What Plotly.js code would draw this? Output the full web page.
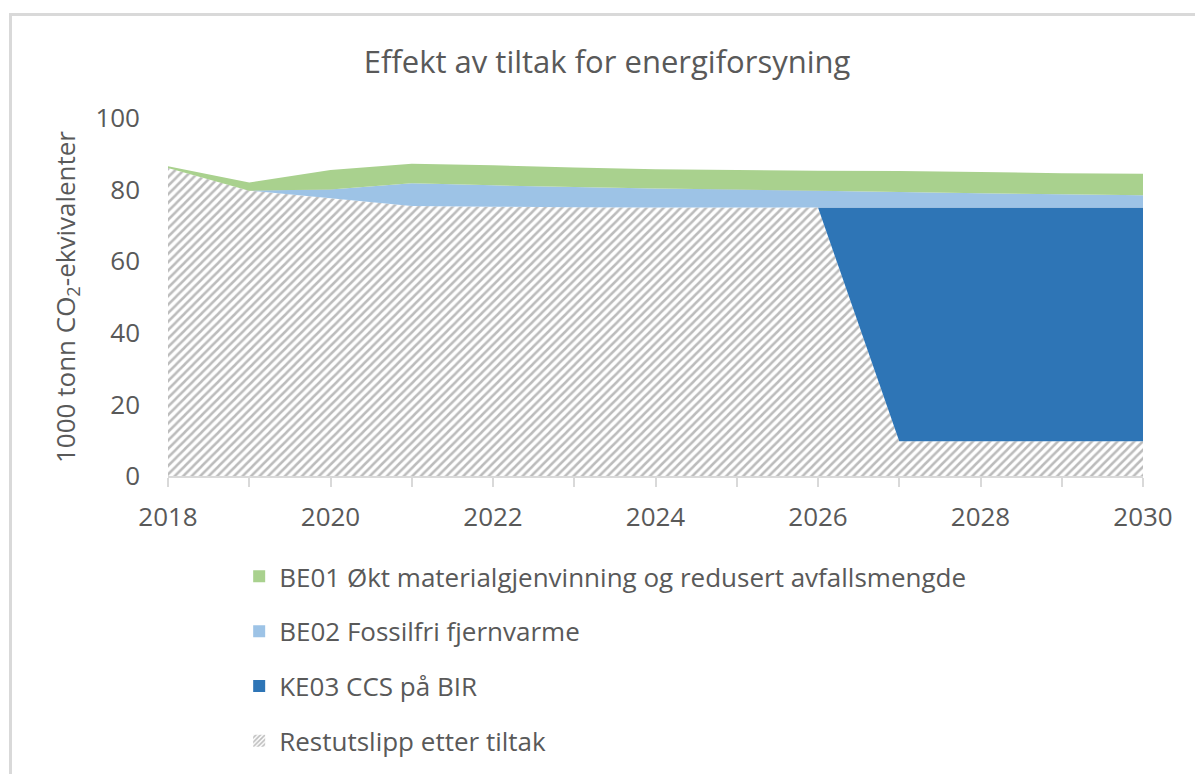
<!DOCTYPE html>
<html>
<head>
<meta charset="utf-8">
<script src="https://cdn.plot.ly/plotly-3.0.1.min.js"></script>
<style>
  html, body { margin: 0; padding: 0; background: #fff; overflow: hidden; }
  #frame { position: absolute; left: 9px; top: 13px; width: 1300px; height: 900px; border: 3px solid #d9d9d9; box-sizing: border-box; }
  #chart { position: absolute; left: 0; top: 0; width: 1195px; height: 774px; }
</style>
</head>
<body>
<div id="frame"></div>
<div id="chart"></div>
<script>
const years = [2018, 2019, 2020, 2021, 2022, 2023, 2024, 2025, 2026, 2027, 2028, 2029, 2030];
const restutslipp = [86, 79.7, 77.6, 75.4, 75.2, 75.1, 75, 75, 75, 9.7, 9.7, 9.7, 9.7];
const ke03 = [0, 0, 0, 0, 0, 0, 0, 0, 0, 65.3, 65.3, 65.3, 65.3];
const be02 = [0, 0, 2.4, 6.4, 6.0, 5.6, 5.3, 5.0, 4.7, 4.3, 4.0, 3.7, 3.4];
const be01 = [0.5, 2.3, 5.5, 5.4, 5.6, 5.5, 5.4, 5.5, 5.6, 5.9, 5.9, 5.9, 6.0];

const names = {
  be01: 'BE01 Økt materialgjenvinning og redusert avfallsmengde',
  be02: 'BE02 Fossilfri fjernvarme',
  ke03: 'KE03 CCS på BIR',
  rest: 'Restutslipp etter tiltak'
};
const colors = { be01: '#a9d18e', be02: '#9dc3e6', ke03: '#2e75b6' };
const hatch = { shape: '/', bgcolor: '#ffffff', fgcolor: '#bcbcbc', size: 6, solidity: 0.42 };
const textColor = '#595959';
const font = 'Open Sans, Noto Sans, sans-serif';

function area(y, key, extra) {
  return Object.assign({
    x: years, y: y, type: 'scatter', mode: 'none', stackgroup: 'one',
    name: names[key], showlegend: false, hoverinfo: 'x+y+name'
  }, extra);
}
function legendItem(key, marker, group) {
  return { x: [null], y: [null], type: 'bar', name: names[key], marker: marker, legendgroup: group, showlegend: true };
}

const data = [
  area(restutslipp, 'rest', { fillcolor: '#ffffff', fillpattern: hatch }),
  area(ke03, 'ke03', { fillcolor: colors.ke03 }),
  area(be02, 'be02', { fillcolor: colors.be02 }),
  area(be01, 'be01', { fillcolor: colors.be01 }),
  legendItem('be01', { color: colors.be01 }, 'g1'),
  legendItem('be02', { color: colors.be02 }, 'g2'),
  legendItem('ke03', { color: colors.ke03 }, 'g3'),
  legendItem('rest', { color: '#ffffff', pattern: { shape: '/', bgcolor: '#ffffff', fgcolor: '#bcbcbc', size: 4, solidity: 0.5 } }, 'g4')
];

const layout = {
  width: 1195, height: 774,
  paper_bgcolor: 'rgba(0,0,0,0)', plot_bgcolor: 'rgba(0,0,0,0)',
  margin: { l: 168, r: 52, t: 118, b: 298, autoexpand: false },
  font: { family: font, color: textColor, size: 25 },
  title: { text: 'Effekt av tiltak for energiforsyning', font: { family: font, size: 31, color: textColor }, x: 0.508, xanchor: 'center', y: 0.92, yanchor: 'middle', yref: 'container' },
  xaxis: {
    type: 'linear', range: [2018, 2030], dtick: 2, tick0: 2018,
    showgrid: false, zeroline: false,
    showline: true, linecolor: '#d9d9d9', linewidth: 2,
    ticks: 'outside', ticklen: 9, tickcolor: '#d9d9d9', tickwidth: 2,
    minor: { dtick: 1, ticks: 'outside', ticklen: 9, tickcolor: '#d9d9d9', tickwidth: 2, showgrid: false },
    tickfont: { size: 26, color: textColor }, ticklabelstandoff: 8
  },
  yaxis: {
    range: [0, 100], dtick: 20, showgrid: true, gridcolor: '#d9d9d9', gridwidth: 2,
    zeroline: false, showline: false, ticks: '',
    tickfont: { size: 26, color: textColor }, ticklabelstandoff: 27,
    title: { text: '1000 tonn CO<sub>2</sub>-ekvivalenter', font: { size: 26, color: textColor }, standoff: 12 }
  },
  showlegend: true,
  legend: {
    orientation: 'v', x: 0.073, xanchor: 'left', y: -0.215, yanchor: 'top',
    font: { size: 26, color: textColor }, traceorder: 'grouped', tracegroupgap: 18,
    bgcolor: 'rgba(0,0,0,0)'
  },
  bargap: 0
};

Plotly.newPlot('chart', data, layout, { displayModeBar: false, staticPlot: true });
</script>
</body>
</html>
